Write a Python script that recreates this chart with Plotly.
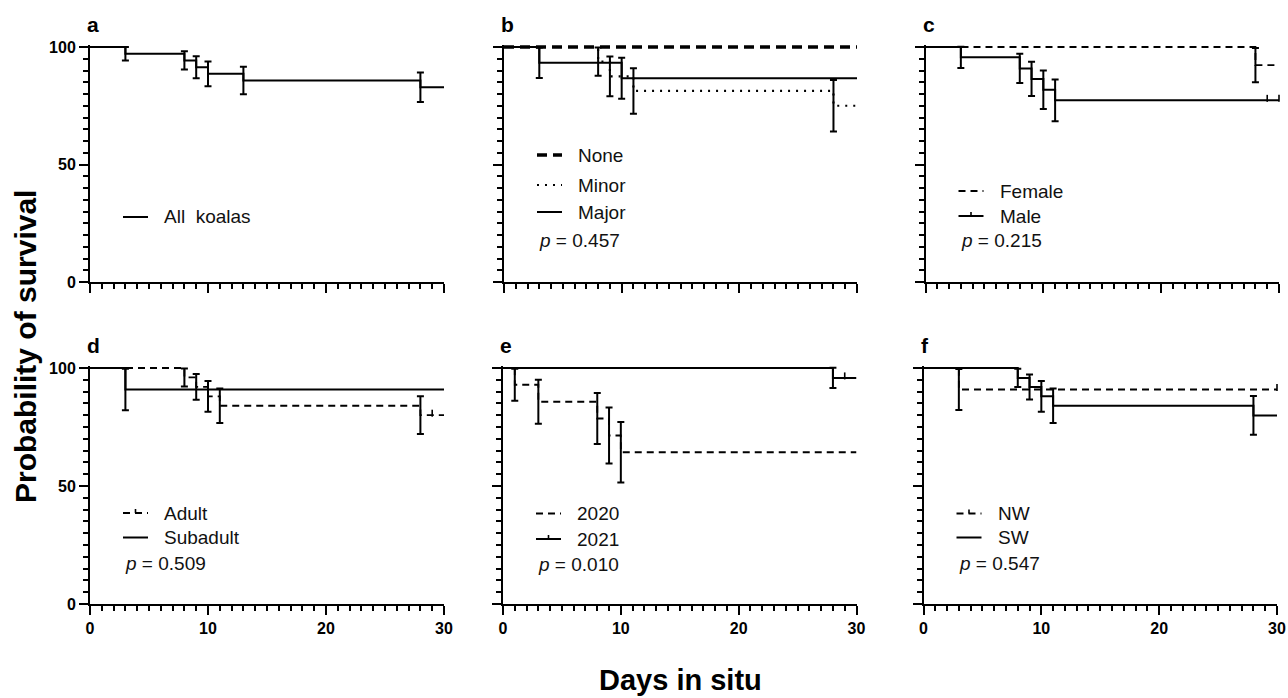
import plotly.graph_objects as go

W, H = 1288, 698
DAY_MAX = 30
Y_TOP_PAD = 0.9  # small headroom so curves at 100 % are not half-clipped
X_TICKS = [0, 10, 20, 30]
Y_TICKS = [0, 50, 100]

# ---------------- data ----------------
# panel a
a_all_t = [3, 8, 9, 10, 13, 28]
a_all_s = [97.1, 94.3, 91.4, 88.6, 85.7, 82.9]
a_all_e = [2.85, 3.9, 4.65, 5.25, 5.85, 6.25]
# panel b
b_none_t, b_none_s, b_none_e = [], [], []
b_minor_t = [8, 9, 11, 28]
b_minor_s = [93.8, 87.5, 81.3, 75.0]
b_minor_e = [6.0, 8.5, 9.7, 11.0]
b_major_t = [3, 10]
b_major_s = [93.3, 86.7]
b_major_e = [6.5, 8.7]
# panel c
c_female_t = [28]
c_female_s = [92.3]
c_female_e = [7.3]
c_male_t = [3, 8, 9, 10, 11]
c_male_s = [95.6, 90.9, 86.4, 81.8, 77.3]
c_male_e = [4.5, 6.2, 7.3, 8.2, 8.9]
c_male_cens = [29, 30]
# panel d
d_adult_t = [8, 9, 10, 11, 28]
d_adult_s = [96.0, 92.0, 88.0, 84.0, 80.0]
d_adult_e = [3.8, 5.5, 6.5, 7.3, 8.0]
d_adult_cens = [29]
d_sub_t = [3]
d_sub_s = [90.9]
d_sub_e = [8.8]
# panel e
e_2020_t = [1, 3, 8, 9, 10]
e_2020_s = [92.9, 85.7, 78.6, 71.4, 64.3]
e_2020_e = [6.8, 9.3, 10.8, 11.9, 12.8]
e_2021_t = [28]
e_2021_s = [95.8]
e_2021_e = [4.3]
e_2021_cens = [29]
# panel f
f_nw_t = [3]
f_nw_s = [90.9]
f_nw_e = [8.7]
f_nw_cens = [30]
f_sw_t = [8, 9, 10, 11, 28]
f_sw_s = [95.8, 92.0, 88.0, 84.0, 79.9]
f_sw_e = [3.9, 5.3, 6.5, 7.3, 8.2]

P_VALUES = {"b": "0.457", "c": "0.215", "d": "0.509", "e": "0.010", "f": "0.547"}

# ---------------- styles ----------------
SOLID = dict(dash="solid", width=2)
DASHED = dict(dash="7px,5px", width=1.8)
DOTTED = dict(dash="2px,6px", width=2.2)
THICKDASH = dict(dash="10px,6px", width=3.5)

panels = [
    dict(letter="a", box=(90, 444, 47, 282), ylabels=True, xlabels=False,
         series=[dict(name="All  koalas", t=a_all_t, s=a_all_s, e=a_all_e, st=SOLID, cens=[])],
         leg_y=[170], p=False),
    dict(letter="b", box=(504, 857, 47, 282), ylabels=False, xlabels=False,
         series=[dict(name="None", t=b_none_t, s=b_none_s, e=b_none_e, st=THICKDASH, cens=[]),
                 dict(name="Minor", t=b_minor_t, s=b_minor_s, e=b_minor_e, st=DOTTED, cens=[]),
                 dict(name="Major", t=b_major_t, s=b_major_s, e=b_major_e, st=SOLID, cens=[])],
         leg_y=[108, 138, 165, 194], p=True),
    dict(letter="c", box=(925.5, 1279, 47, 282), ylabels=False, xlabels=False,
         series=[dict(name="Female", t=c_female_t, s=c_female_s, e=c_female_e, st=DASHED, cens=[]),
                 dict(name="Male", t=c_male_t, s=c_male_s, e=c_male_e, st=SOLID, cens=c_male_cens)],
         leg_y=[144, 169, 194], p=True),
    dict(letter="d", box=(90, 444, 368, 604), ylabels=True, xlabels=True,
         series=[dict(name="Adult", t=d_adult_t, s=d_adult_s, e=d_adult_e, st=DASHED, cens=d_adult_cens),
                 dict(name="Subadult", t=d_sub_t, s=d_sub_s, e=d_sub_e, st=SOLID, cens=[])],
         leg_y=[145, 169.5, 195.5], p=True),
    dict(letter="e", box=(503, 856.5, 368, 604), ylabels=False, xlabels=True,
         series=[dict(name="2020", t=e_2020_t, s=e_2020_s, e=e_2020_e, st=DASHED, cens=[]),
                 dict(name="2021", t=e_2021_t, s=e_2021_s, e=e_2021_e, st=SOLID, cens=e_2021_cens)],
         leg_y=[145.5, 171, 196], p=True),
    dict(letter="f", box=(923.5, 1277, 368, 604), ylabels=False, xlabels=True,
         series=[dict(name="NW", t=f_nw_t, s=f_nw_s, e=f_nw_e, st=DASHED, cens=f_nw_cens),
                 dict(name="SW", t=f_sw_t, s=f_sw_s, e=f_sw_e, st=SOLID, cens=[])],
         leg_y=[145.5, 169.5, 195.5], p=True),
]

FONT = "Liberation Sans, Arial, sans-serif"


def px(x):
    return x / W


def py(y):
    return 1 - y / H


fig = go.Figure()
shapes = []
annotations = []

for i, p in enumerate(panels):
    k = i + 1
    xr = "x" if k == 1 else f"x{k}"
    yr = "y" if k == 1 else f"y{k}"
    xl, xrgt, yt, yb = p["box"]
    yscale = (yb - yt) / 100.0  # px per unit
    y_top_px = yt - Y_TOP_PAD * yscale
    axis_common = dict(showline=True, linecolor="black", linewidth=2, ticks="outside",
                       ticklen=9, tickwidth=2, tickcolor="black", showgrid=False,
                       zeroline=False, mirror=False, fixedrange=True, automargin=False,
                       tickfont=dict(family=FONT, size=16, color="black", weight="bold"))
    fig.update_layout({
        ("xaxis" if k == 1 else f"xaxis{k}"): dict(
            axis_common, domain=[px(xl), px(xrgt)], range=[0, DAY_MAX], anchor=yr,
            tickvals=X_TICKS, showticklabels=p["xlabels"],
            minor=dict(ticks="outside", dtick=1, tick0=0, ticklen=5, tickwidth=1.5, tickcolor="black")),
        ("yaxis" if k == 1 else f"yaxis{k}"): dict(
            axis_common, domain=[py(yb), py(y_top_px)], range=[0, 100 + Y_TOP_PAD], anchor=xr,
            tickvals=Y_TICKS, showticklabels=p["ylabels"],
            minor=dict(ticks="outside", dtick=5, tick0=0, ticklen=5, tickwidth=1.5, tickcolor="black")),
    })
    for s in p["series"]:
        xs = [0] + list(s["t"]) + [DAY_MAX]
        last = s["s"][-1] if s["s"] else 100
        ys = [100] + list(s["s"]) + [last]
        fig.add_trace(go.Scatter(x=xs, y=ys, mode="lines", xaxis=xr, yaxis=yr,
                                 line=dict(shape="hv", color="black", width=s["st"]["width"],
                                           dash=s["st"]["dash"]),
                                 cliponaxis=False, showlegend=False, hoverinfo="skip"))
        if s["t"]:
            fig.add_trace(go.Scatter(x=s["t"], y=s["s"], mode="markers", xaxis=xr, yaxis=yr,
                                     marker=dict(size=1, color="rgba(0,0,0,0)"),
                                     error_y=dict(type="data", array=s["e"], visible=True,
                                                  color="black", thickness=2, width=3.5),
                                     cliponaxis=False, showlegend=False, hoverinfo="skip"))
        if s["cens"]:
            # small upward tick above the curve at censored times
            def surv_at(tt, s=s):
                v = 100
                for ti, si in zip(s["t"], s["s"]):
                    if tt >= ti:
                        v = si
                return v
            cy = [surv_at(c) + 2.0 / yscale for c in s["cens"]]
            fig.add_trace(go.Scatter(x=s["cens"], y=cy, mode="markers", xaxis=xr, yaxis=yr,
                                     marker=dict(symbol="line-ns", size=5,
                                                 line=dict(color="black", width=1.6)),
                                     cliponaxis=False, showlegend=False, hoverinfo="skip"))

    # panel letter
    annotations.append(dict(text=f"<b>{p['letter']}</b>", x=px(xl - 5), y=py(yt - 23),
                            xref="paper", yref="paper", xanchor="left", yanchor="middle",
                            showarrow=False, font=dict(family=FONT, size=21, color="black")))

    # legend
    for j, s in enumerate(p["series"]):
        ly = yt + p["leg_y"][j]
        st = s["st"]
        shapes.append(dict(type="line", xref="paper", yref="paper",
                           x0=px(xl + 33), x1=px(xl + 58), y0=py(ly), y1=py(ly),
                           line=dict(color="black", width=st["width"], dash=st["dash"])))
        if s["cens"]:
            shapes.append(dict(type="line", xref="paper", yref="paper",
                               x0=px(xl + 45.5), x1=px(xl + 45.5), y0=py(ly), y1=py(ly - 4),
                               line=dict(color="black", width=1.6)))
        annotations.append(dict(text=s["name"], x=px(xl + 72), y=py(ly), xref="paper", yref="paper",
                                xanchor="left", yanchor="middle", showarrow=False,
                                font=dict(family=FONT, size=19, color="#111111")))
    if p["p"]:
        ly = yt + p["leg_y"][len(p["series"])]
        annotations.append(dict(text=f"<i>p</i> = {P_VALUES[p['letter']]}", x=px(xl + 33), y=py(ly),
                                xref="paper", yref="paper", xanchor="left", yanchor="middle",
                                showarrow=False, font=dict(family=FONT, size=19, color="#111111")))

# global axis titles
annotations.append(dict(text="<b>Probability of survival</b>", x=px(25), y=py(347), xref="paper",
                        yref="paper", xanchor="center", yanchor="middle", textangle=-90,
                        showarrow=False, font=dict(family=FONT, size=30, color="black")))
annotations.append(dict(text="<b>Days in situ</b>", x=px(680), y=py(680), xref="paper",
                        yref="paper", xanchor="center", yanchor="middle",
                        showarrow=False, font=dict(family=FONT, size=29, color="black")))

fig.update_layout(width=W, height=H, margin=dict(l=0, r=0, t=0, b=0),
                  paper_bgcolor="white", plot_bgcolor="white",
                  shapes=shapes, annotations=annotations, showlegend=False,
                  font=dict(family=FONT, color="black"))

# remove the default page margin so the figure fills the window exactly
fig.write_html("out.html", config={"displayModeBar": False},
               post_script="document.body.style.margin='0';document.body.style.overflow='hidden';")
